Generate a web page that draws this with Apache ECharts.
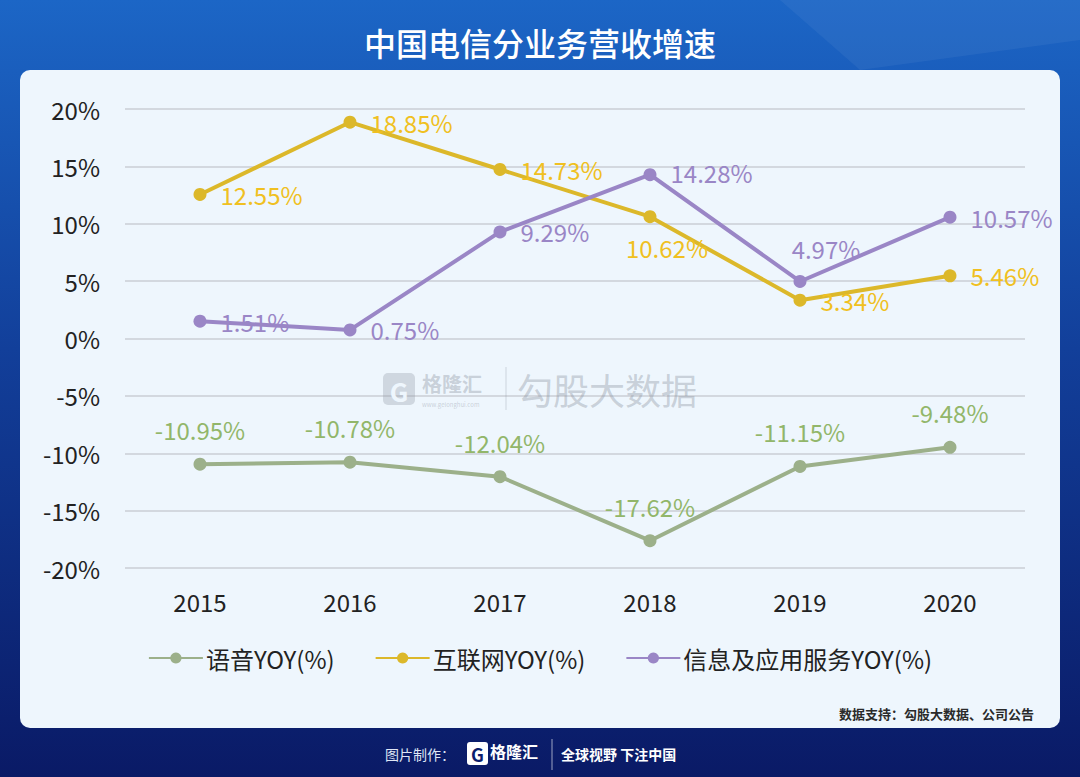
<!DOCTYPE html>
<html>
<head>
<meta charset="utf-8">
<title>中国电信分业务营收增速</title>
<script src="https://cdn.jsdelivr.net/npm/echarts@6/dist/echarts.min.js"></script>
<style>
  html, body { margin: 0; padding: 0; }
  #chart { width: 1080px; height: 777px; }
</style>
</head>
<body>
<div id="chart"></div>
<script>
(function () {
    var years = ['2015', '2016', '2017', '2018', '2019', '2020'];
    var voice = [-10.95, -10.78, -12.04, -17.62, -11.15, -9.48];
    var internet = [12.55, 18.85, 14.73, 10.62, 3.34, 5.46];
    var infoApp = [1.51, 0.75, 9.29, 14.28, 4.97, 10.57];
    var names = ['语音YOY(%)', '互联网YOY(%)', '信息及应用服务YOY(%)'];

    var font = '"Noto Sans CJK SC", "Noto Sans", sans-serif';
    var lineColor = ['#9cb08a', '#dcb82a', '#9a86c6'];
    var labelColor = ['#92b66a', '#f0c021', '#9a86c6'];

    // label placement per point (index -> position / offset)
    var placeInternet = { 3: { position: 'bottom', offset: [17, -2] } };
    var placeInfo = { 3: { offset: [0, -2] }, 4: { position: 'top', offset: [26, 0] } };

    function buildData(values, place) {
        return values.map(function (v, i) {
            var item = { value: v };
            if (place && place[i]) item.label = place[i];
            return item;
        });
    }

    function makeSeries(idx, values, position, distance, place) {
        return {
            name: names[idx],
            type: 'line',
            data: buildData(values, place),
            symbol: 'circle',
            symbolSize: 13,
            color: lineColor[idx],
            lineStyle: { width: 4, color: lineColor[idx] },
            itemStyle: { color: lineColor[idx] },
            z: 3,
            label: {
                show: true,
                position: position,
                distance: distance,
                color: labelColor[idx],
                fontSize: 24,
                fontFamily: font,
                formatter: function (p) { return p.value.toFixed(2) + '%'; }
            }
        };
    }

    var myChart = echarts.init(document.getElementById('chart'), null, { renderer: 'svg' });

    var option = {
        animation: false,
        graphic: [
            {
                type: 'rect', z: -10, silent: true,
                shape: { x: 0, y: 0, width: 1080, height: 777 },
                style: {
                    fill: new echarts.graphic.LinearGradient(0, 0, 0, 1, [
                        { offset: 0, color: '#1c66c6' },
                        { offset: 0.45, color: '#123f9a' },
                        { offset: 1, color: '#0a1a66' }
                    ])
                }
            },
            {
                type: 'polygon', z: -9, silent: true,
                shape: { points: [[780, 0], [1080, 0], [1080, 40], [860, 70]] },
                style: { fill: 'rgba(255,255,255,0.05)' }
            },
            {
                type: 'text', z: 5,
                style: {
                    text: '中国电信分业务营收增速',
                    x: 540, y: 42, align: 'center', verticalAlign: 'middle',
                    fill: '#ffffff', fontSize: 32, fontWeight: 500, fontFamily: font
                }
            },
            {
                type: 'rect', z: -8, silent: true,
                shape: { x: 20, y: 70, width: 1040, height: 658, r: 10 },
                style: { fill: '#eef6fd' }
            },
            // watermark
            {
                type: 'rect', z: 1, silent: true,
                shape: { x: 383, y: 373, width: 32, height: 32, r: 5 },
                style: { fill: 'rgba(150,158,170,0.35)' }
            },
            {
                type: 'text', z: 1, silent: true,
                style: {
                    text: 'G', x: 399, y: 390, align: 'center', verticalAlign: 'middle',
                    fill: '#eef6fd', fontSize: 26, fontWeight: 'bold', fontFamily: font
                }
            },
            {
                type: 'text', z: 1, silent: true,
                style: {
                    text: '格隆汇', x: 422, y: 383, align: 'left', verticalAlign: 'middle',
                    fill: 'rgba(140,148,160,0.4)', fontSize: 20, fontWeight: 'bold', fontFamily: font
                }
            },
            {
                type: 'text', z: 1, silent: true,
                style: {
                    text: 'www.gelonghui.com', x: 422, y: 404, align: 'left', verticalAlign: 'middle',
                    fill: 'rgba(140,148,160,0.4)', fontSize: 6, fontFamily: font
                }
            },
            {
                type: 'line', z: 1, silent: true,
                shape: { x1: 506, y1: 367, x2: 506, y2: 410 },
                style: { stroke: 'rgba(140,148,160,0.35)', lineWidth: 1 }
            },
            {
                type: 'text', z: 1, silent: true,
                style: {
                    text: '勾股大数据', x: 517, y: 389, align: 'left', verticalAlign: 'middle',
                    fill: 'rgba(140,148,160,0.4)', fontSize: 36, fontFamily: font
                }
            },
            // source note
            {
                type: 'text', z: 5,
                style: {
                    text: '数据支持：勾股大数据、公司公告', x: 1034, y: 713, align: 'right', verticalAlign: 'middle',
                    fill: '#2a2a2a', fontSize: 13, fontWeight: 'bold', fontFamily: font
                }
            },
            // bottom credit
            {
                type: 'text', z: 5,
                style: {
                    text: '图片制作：', x: 455, y: 754, align: 'right', verticalAlign: 'middle',
                    fill: '#dfe6f5', fontSize: 14, fontFamily: font
                }
            },
            {
                type: 'rect', z: 5,
                shape: { x: 467, y: 742, width: 21, height: 23, r: 3 },
                style: { fill: '#ffffff' }
            },
            {
                type: 'text', z: 6,
                style: {
                    text: 'G', x: 477.5, y: 754, align: 'center', verticalAlign: 'middle',
                    fill: '#0b1d6c', fontSize: 18, fontWeight: 'bold', fontFamily: font
                }
            },
            {
                type: 'text', z: 5,
                style: {
                    text: '格隆汇', x: 490, y: 751, align: 'left', verticalAlign: 'middle',
                    fill: '#ffffff', fontSize: 16, fontWeight: 'bold', fontFamily: font
                }
            },
            {
                type: 'line', z: 5,
                shape: { x1: 552, y1: 739, x2: 552, y2: 770 },
                style: { stroke: 'rgba(255,255,255,0.6)', lineWidth: 1 }
            },
            {
                type: 'text', z: 5,
                style: {
                    text: '全球视野 下注中国', x: 561, y: 754, align: 'left', verticalAlign: 'middle',
                    fill: '#ffffff', fontSize: 14, fontWeight: 'bold', fontFamily: font
                }
            }
        ],
        legend: {
            data: names,
            top: 641,
            left: 'center',
            itemWidth: 54,
            itemHeight: 14,
            itemGap: 40,
            textStyle: { fontSize: 24, color: '#222222', fontFamily: font, padding: [0, 0, 0, -2] }
        },
        grid: {
            left: 125,
            right: 55,
            top: 109,
            bottom: 209,
            containLabel: false
        },
        xAxis: {
            type: 'category',
            data: years,
            boundaryGap: true,
            axisLine: { show: false },
            axisTick: { show: false },
            axisLabel: {
                margin: 21,
                fontSize: 24,
                color: '#222222',
                fontFamily: font
            }
        },
        yAxis: {
            type: 'value',
            min: -20,
            max: 20,
            interval: 5,
            axisLine: { show: false },
            axisTick: { show: false },
            axisLabel: {
                formatter: '{value}%',
                margin: 25,
                fontSize: 24,
                color: '#222222',
                fontFamily: font
            },
            splitLine: {
                lineStyle: { color: '#d3d8df', width: 2 }
            }
        },
        series: [
            makeSeries(0, voice, 'top', 16, null),
            makeSeries(1, internet, 'right', 14, placeInternet),
            makeSeries(2, infoApp, 'right', 14, placeInfo)
        ]
    };

    myChart.setOption(option);
    window.addEventListener('resize', function () {
        myChart.resize();
    });
})();
</script>
</body>
</html>
